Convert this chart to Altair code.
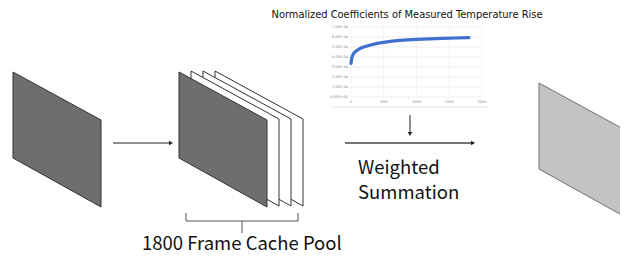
import altair as alt
import pandas as pd

# ---------------- diagram content (image pixel coordinates) ----------------
# frames: left-top corner of each parallelogram, fill and outline colours
frame_ids = ["input", "cache3", "cache2", "cache1", "cache0", "output"]
frame_x = [13, 215, 203, 191, 179, 539]
frame_y = [72, 71, 71, 71, 72, 83]
frame_fill = ["#6e6e6e", "#ffffff", "#ffffff", "#ffffff", "#6e6e6e", "#c3c3c3"]
frame_stroke = ["#333333", "#333333", "#333333", "#333333", "#333333", "#707070"]
FRAME_W, FRAME_DROP, FRAME_H = 88, 48, 86

# connector lines (x, y, x2, y2)
seg_x = [113, 345, 410, 186, 186, 298, 242]
seg_y = [143, 143, 115, 221, 213, 213, 221]
seg_x2 = [171, 474, 410, 298, 186, 298, 242]
seg_y2 = [143, 143, 134, 221, 221, 221, 233]
seg_w = [1, 1.6, 1, 1, 1, 1, 1]
seg_c = ["#222222", "#444444", "#222222", "#555555", "#555555", "#555555", "#555555"]

# arrow heads
head_x = [171, 473, 410]
head_y = [143, 143, 134]
head_shape = ["triangle-right", "triangle-right", "triangle-down"]

# text labels
label_text = ["Weighted", "Summation", "1800 Frame Cache Pool"]
label_x = [358, 358, 142]
label_y = [174, 199, 250]

title_text = "Normalized Coefficients of Measured Temperature Rise"

# ---------------- inset chart data ----------------
inset_x = [0, 8, 20, 40, 70, 110, 160, 220, 300, 400, 500, 600, 700, 800, 1000, 1200, 1400, 1600, 1800]
inset_y = [3.35e-4, 3.8e-4, 4.1e-4, 4.35e-4, 4.55e-4, 4.75e-4, 4.92e-4, 5.05e-4, 5.2e-4,
           5.36e-4, 5.47e-4, 5.57e-4, 5.64e-4, 5.69e-4, 5.77e-4, 5.82e-4, 5.86e-4, 5.9e-4, 5.93e-4]
y_ticks = [0, 1e-4, 2e-4, 3e-4, 4e-4, 5e-4, 6e-4, 7e-4]
y_tick_labels = ["0.00E+00", "1.00E-04", "2.00E-04", "3.00E-04", "4.00E-04", "5.00E-04", "6.00E-04", "7.00E-04"]
x_ticks = [0, 500, 1000, 1500, 2000]
x_tick_labels = ["0", "500", "1000", "1500", "2000"]

# ---------------- scales ----------------
W, H = 612, 246
XS = alt.Scale(domain=[8, 8 + W], nice=False, zero=False)
YS = alt.Scale(domain=[8, 8 + H], reverse=True, nice=False, zero=False)
XI = alt.Scale(domain=[0, 2000], range=[351 - 8, 482 - 8], nice=False, zero=False)
YI = alt.Scale(domain=[0, 7e-4], range=[97 - 8, 27 - 8], nice=False, zero=False)

FONT = "Noto Sans CJK KR"

# frames
frame_layers = []
for fid, fx, fy, ff, fs in zip(frame_ids, frame_x, frame_y, frame_fill, frame_stroke):
    df = pd.DataFrame({
        "x": [fx, fx + FRAME_W],
        "top": [fy, fy + FRAME_DROP],
        "bot": [fy + FRAME_H, fy + FRAME_DROP + FRAME_H + 1],
    })
    frame_layers.append(
        alt.Chart(df).mark_area(fill=ff, stroke=fs, strokeWidth=1, opacity=1).encode(
            x=alt.X("x:Q", scale=XS, axis=None),
            y=alt.Y("top:Q", scale=YS, axis=None, stack=None),
            y2="bot:Q",
        )
    )

seg_df = pd.DataFrame({"x": seg_x, "y": seg_y, "x2": seg_x2, "y2": seg_y2, "w": seg_w, "c": seg_c})
segs = alt.Chart(seg_df).mark_rule().encode(
    x=alt.X("x:Q", scale=XS, axis=None),
    y=alt.Y("y:Q", scale=YS, axis=None),
    x2="x2:Q",
    y2="y2:Q",
    strokeWidth=alt.StrokeWidth("w:Q", scale=None, legend=None),
    color=alt.Color("c:N", scale=None, legend=None),
)

head_df = pd.DataFrame({"x": head_x, "y": head_y, "s": head_shape})
heads = alt.Chart(head_df).mark_point(filled=True, size=22, color="#222222", opacity=1).encode(
    x=alt.X("x:Q", scale=XS, axis=None),
    y=alt.Y("y:Q", scale=YS, axis=None),
    shape=alt.Shape("s:N", scale=None, legend=None),
)

label_df = pd.DataFrame({"x": label_x, "y": label_y, "t": label_text})
labels = alt.Chart(label_df).mark_text(
    align="left", baseline="alphabetic", font=FONT, fontSize=18.5, color="#111111"
).encode(
    x=alt.X("x:Q", scale=XS, axis=None),
    y=alt.Y("y:Q", scale=YS, axis=None),
    text="t:N",
)

title_df = pd.DataFrame({"x": [407], "y": [15], "t": [title_text]})
title = alt.Chart(title_df).mark_text(
    align="center", baseline="middle", font="DejaVu Sans", fontSize=9.9, color="#111111"
).encode(
    x=alt.X("x:Q", scale=XS, axis=None),
    y=alt.Y("y:Q", scale=YS, axis=None),
    text="t:N",
)

border_df = pd.DataFrame({"x": [330], "x2": [488], "y": [107]})
border = alt.Chart(border_df).mark_rule(color="#e6e6e6", strokeWidth=1).encode(
    x=alt.X("x:Q", scale=XS, axis=None),
    x2="x2:Q",
    y=alt.Y("y:Q", scale=YS, axis=None),
)

diagram = alt.layer(*frame_layers, segs, heads, labels, title, border)

# ---------------- inset ----------------
hgrid_df = pd.DataFrame({"y": y_ticks, "x": [0] * len(y_ticks), "x2": [2000] * len(y_ticks), "t": y_tick_labels})
hgrid = alt.Chart(hgrid_df).mark_rule(color="#e3e3e3", strokeWidth=0.6).encode(
    x=alt.X("x:Q", scale=XI, axis=None),
    x2="x2:Q",
    y=alt.Y("y:Q", scale=YI, axis=None),
)
vgrid_df = pd.DataFrame({"x": x_ticks, "y": [0] * len(x_ticks), "y2": [7e-4] * len(x_ticks), "t": x_tick_labels})
vgrid = alt.Chart(vgrid_df).mark_rule(color="#ececec", strokeWidth=0.6).encode(
    x=alt.X("x:Q", scale=XI, axis=None),
    y=alt.Y("y:Q", scale=YI, axis=None),
    y2="y2:Q",
)
ylab = alt.Chart(hgrid_df).mark_text(
    align="right", baseline="middle", fontSize=3.6, font="DejaVu Sans", color="#8a8a8a", dx=-3
).encode(
    x=alt.X("x:Q", scale=XI, axis=None),
    y=alt.Y("y:Q", scale=YI, axis=None),
    text="t:N",
)
xlab = alt.Chart(vgrid_df).mark_text(
    align="center", baseline="top", fontSize=3.6, font="DejaVu Sans", color="#8a8a8a", dy=3
).encode(
    x=alt.X("x:Q", scale=XI, axis=None),
    y=alt.Y("y:Q", scale=YI, axis=None),
    text="t:N",
)
curve_df = pd.DataFrame({"x": inset_x, "y": inset_y})
curve = alt.Chart(curve_df).mark_line(color="#3f6fcf", strokeWidth=3.2, strokeCap="round").encode(
    x=alt.X("x:Q", scale=XI, axis=None),
    y=alt.Y("y:Q", scale=YI, axis=None),
)
inset = alt.layer(vgrid, hgrid, ylab, xlab, curve)

chart = alt.layer(diagram, inset).resolve_scale(x="independent", y="independent").properties(
    width=W, height=H, padding=0, autosize=alt.AutoSizeParams(type="none")
).configure_view(stroke=None)

chart.save("out.html", embed_options={"renderer": "svg", "actions": False})
